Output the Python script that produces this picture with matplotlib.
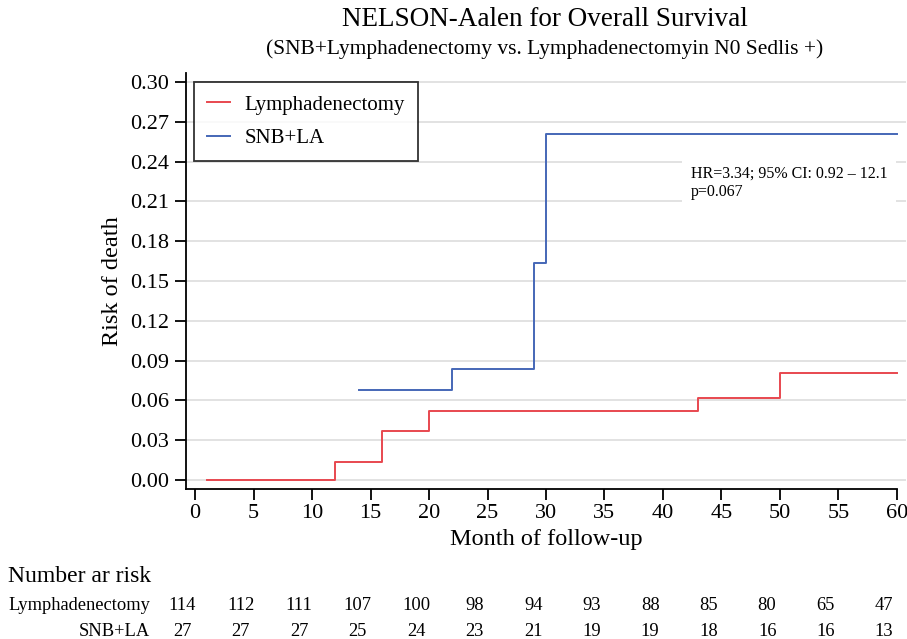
import matplotlib
matplotlib.use("Agg")
import matplotlib.pyplot as plt
import matplotlib.transforms as mtransforms

plt.rcParams['font.family'] = ['Liberation Serif', 'DejaVu Serif']

# ---- data ----
lymph_t = [1, 12, 16, 20, 43, 50, 60]
lymph_h = [0.0, 0.0138, 0.0372, 0.0522, 0.0620, 0.0806, 0.0806]
snb_t = [14, 22, 29, 30, 60]
snb_h = [0.0678, 0.0840, 0.1636, 0.2607, 0.2607]

x_ticks = [0, 5, 10, 15, 20, 25, 30, 35, 40, 45, 50, 55, 60]
y_ticks = [0.00, 0.03, 0.06, 0.09, 0.12, 0.15, 0.18, 0.21, 0.24, 0.27, 0.30]

risk_times = [0, 5, 10, 15, 20, 25, 30, 35, 40, 45, 50, 55, 60]
risk_lymph = [114, 112, 111, 107, 100, 98, 94, 93, 88, 85, 80, 65, 47]
risk_snb = [27, 27, 27, 25, 24, 23, 21, 19, 19, 18, 16, 16, 13]

series_names = ["Lymphadenectomy", "SNB+LA"]
colors = ["#e8484f", "#4567b7"]

title = "NELSON-Aalen for Overall Survival"
subtitle = "(SNB+Lymphadenectomy vs. Lymphadenectomyin N0 Sedlis +)"
annot = "HR=3.34; 95% CI: 0.92 \u2013 12.1\np=0.067"

# ---- figure ----
W, H = 907, 639
fig = plt.figure(figsize=(W / 100, H / 100), dpi=100)
ax = fig.add_axes([186 / W, (H - 489) / H, 720 / W, 416 / H])

ax.plot(lymph_t, lymph_h, drawstyle='steps-post', color=colors[0], lw=1.4,
        label=series_names[0], zorder=3)
ax.plot(snb_t, snb_h, drawstyle='steps-post', color=colors[1], lw=1.4,
        label=series_names[1], zorder=3)

ax.set_xlim(-0.77, 60.77)
ax.set_ylim(-0.0068, 0.3068)
ax.set_xticks(x_ticks)
ax.set_yticks(y_ticks)
ax.set_yticklabels([f"{v:.2f}" for v in y_ticks])
ax.tick_params(axis='both', direction='out', length=8, width=1.3,
               labelsize=16, color='black')
ax.tick_params(axis='x', pad=3)
ax.tick_params(axis='y', pad=4)

for s in ['top', 'right']:
    ax.spines[s].set_visible(False)
for s in ['left', 'bottom']:
    ax.spines[s].set_linewidth(1.3)
ax.spines['bottom'].set_bounds(-0.77, 60)

ax.grid(axis='y', color='#e2e2e2', lw=1.4, zorder=0)
ax.set_axisbelow(True)

ax.set_xlabel("Month of follow-up", fontsize=17.5, labelpad=4)
ax.set_ylabel("Risk of death", fontsize=17.5, labelpad=5)

leg = ax.legend(loc='upper left', bbox_to_anchor=(0.011, 0.978), fontsize=15,
                frameon=True, fancybox=False, edgecolor='black',
                handlelength=1.1, handletextpad=0.72, borderpad=0.62,
                labelspacing=0.68, borderaxespad=0)
leg.get_frame().set_linewidth(1.3)

ax.text(0.701, 0.777, annot, transform=ax.transAxes, fontsize=11.5,
        va='top', ha='left', linespacing=1.15,
        bbox=dict(facecolor='white', edgecolor='none', pad=6), zorder=4)

fig.text(545 / W, 1 - 20 / H, title, ha='center', va='center', fontsize=19.5)
fig.text(545 / W, 1 - 49 / H, subtitle, ha='center', va='center', fontsize=15.5)

# ---- number at risk table ----
fig.text(8 / W, 1 - 577 / H, "Number ar risk", ha='left', va='center', fontsize=17)
trans = mtransforms.blended_transform_factory(ax.transData, fig.transFigure)
row_y = [1 - 606 / H, 1 - 631 / H]
for name, vals, yy in zip(series_names, [risk_lymph, risk_snb], row_y):
    fig.text(150 / W, yy, name, ha='right', va='center', fontsize=13.3)
    for t, v in zip(risk_times, vals):
        ax.text(t - 1.1, yy, str(v), transform=trans, ha='center', va='center',
                fontsize=13.3, clip_on=False)

fig.savefig("out.png", dpi=100)
